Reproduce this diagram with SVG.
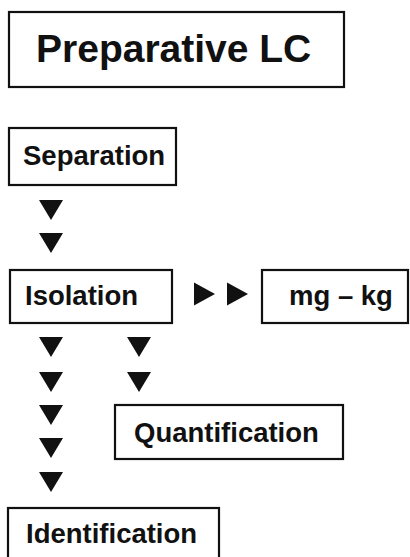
<svg xmlns="http://www.w3.org/2000/svg" width="410" height="557" viewBox="0 0 410 557">
<style>
.box{fill:#fff;stroke:#111;stroke-width:2.2}
.t{font-family:"Liberation Sans",Arial,sans-serif;font-weight:bold;font-size:27.5px;fill:#111}
.title{font-size:39px}
.tri{fill:#111}
</style>
<defs>
<path id="down" d="M-12,0 L12,0 L0,20 Z"/>
<path id="right" d="M0,-11.5 L21,0 L0,11.5 Z"/>
</defs>
<rect width="410" height="557" fill="#fff"/>
<g id="title">
<rect class="box" x="9" y="12" width="335" height="75"/>
<text class="t title" x="36" y="62">Preparative LC</text>
</g>
<g id="separation">
<rect class="box" x="9" y="128" width="167" height="57"/>
<text class="t" x="23" y="165">Separation</text>
</g>
<g id="isolation">
<rect class="box" x="10" y="270" width="162" height="53"/>
<text class="t" x="25" y="305">Isolation</text>
</g>
<g id="mgkg">
<rect class="box" x="262" y="270" width="146" height="53"/>
<text class="t" x="289" y="305">mg – kg</text>
</g>
<g id="quantification">
<rect class="box" x="115" y="405" width="228" height="54"/>
<text class="t" x="134" y="442">Quantification</text>
</g>
<g id="identification">
<rect class="box" x="8" y="508" width="211" height="60"/>
<text class="t" x="26" y="543">Identification</text>
</g>
<g id="connectors" class="tri">
<use href="#down" x="51" y="200"/>
<use href="#down" x="51" y="233"/>
<use href="#right" x="194" y="294"/>
<use href="#right" x="227" y="294"/>
<use href="#down" x="51" y="337"/>
<use href="#down" x="51" y="372"/>
<use href="#down" x="51" y="405"/>
<use href="#down" x="51" y="438"/>
<use href="#down" x="51" y="472"/>
<use href="#down" x="139" y="337"/>
<use href="#down" x="139" y="372"/>
</g>
</svg>
